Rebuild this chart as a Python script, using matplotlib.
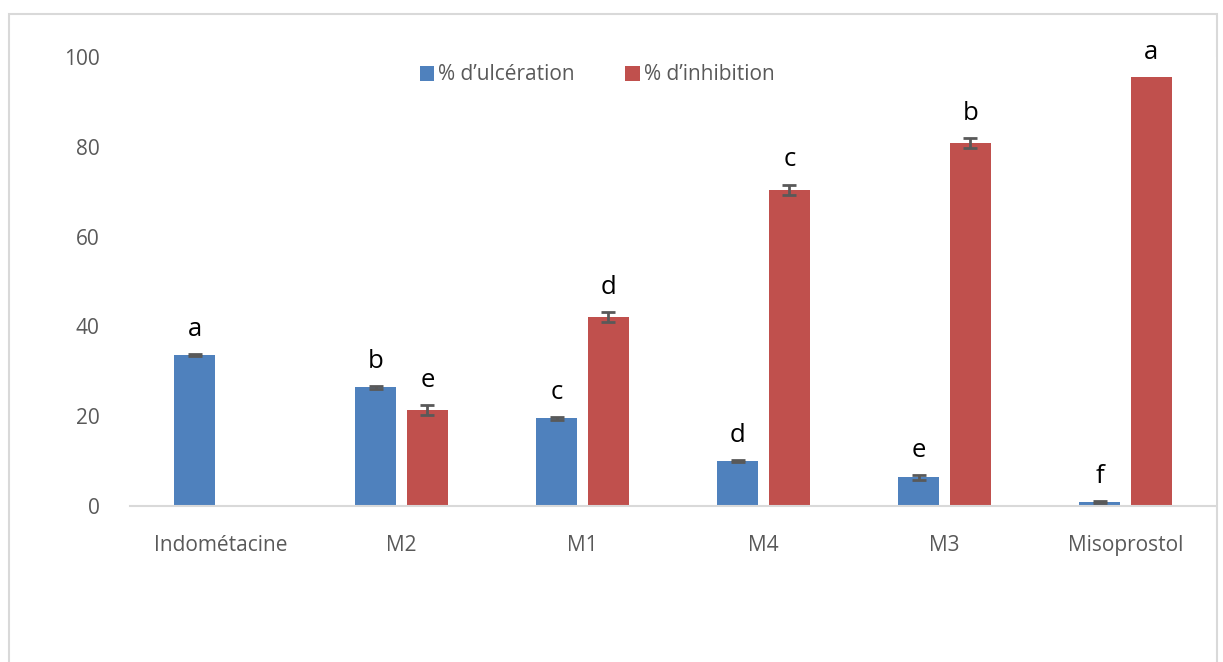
import matplotlib
matplotlib.use("Agg")
import matplotlib.pyplot as plt
from matplotlib.patches import Rectangle
import numpy as np

categories = ["Indométacine", "M2", "M1", "M4", "M3", "Misoprostol"]
ulceration = [33.6, 26.4, 19.5, 10.0, 6.4, 0.9]
ulceration_err = [0.3, 0.3, 0.4, 0.2, 0.5, 0.3]
inhibition = [np.nan, 21.3, 42.0, 70.4, 80.9, 95.6]
inhibition_err = [0, 1.1, 1.1, 1.2, 1.1, 0]
letters_ulc = ["a", "b", "c", "d", "e", "f"]
letters_inh = ["", "e", "d", "c", "b", "a"]
series_names = ["% d\u2019ulcération", "% d\u2019inhibition"]
yticks = [0, 20, 40, 60, 80, 100]

plt.rcParams['font.family'] = ['Open Sans', 'DejaVu Sans']

fig = plt.figure(figsize=(12.23, 6.62), dpi=100)
ax = fig.add_axes([130/1223, 1-506/662, (1216-130)/1223, (506-57)/662])

x = np.arange(len(categories))
w = 0.2265
off = 0.1436
blue = "#4F81BD"
red = "#C0504D"
ecol = "#595959"
ekw = dict(fmt="none", ecolor=ecol, elinewidth=2, capsize=5, capthick=2, zorder=3)

inh = np.array(inhibition, dtype=float)
ulc = np.array(ulceration, dtype=float)
uerr = np.array(ulceration_err, dtype=float)
ierr = np.array(inhibition_err, dtype=float)

b1 = ax.bar(x - off, ulc, w, color=blue, label=series_names[0])
b2 = ax.bar(x + off, np.nan_to_num(inh), w, color=red, label=series_names[1])

mu = uerr > 0
ax.errorbar((x - off)[mu], ulc[mu], yerr=uerr[mu], **ekw)
mi = ierr > 0
ax.errorbar((x + off)[mi], inh[mi], yerr=ierr[mi], **ekw)

for i in range(len(categories)):
    ax.annotate(letters_ulc[i], (x[i] - off, ulc[i] + uerr[i]),
                xytext=(0, 13), textcoords="offset points", ha="center", va="baseline",
                fontsize=18.5, color="black")
    if letters_inh[i] and not np.isnan(inh[i]):
        ax.annotate(letters_inh[i], (x[i] + off, inh[i] + ierr[i]),
                    xytext=(0, 13), textcoords="offset points", ha="center", va="baseline",
                    fontsize=18.5, color="black")

ax.set_xlim(-0.5, len(categories) - 0.5)
ax.set_ylim(0, 100)
ax.set_yticks(yticks)
ax.set_xticks(x)
ax.set_xticklabels(categories)
ax.tick_params(axis="both", length=0, labelsize=15, colors="#595959")
ax.tick_params(axis="x", pad=21)
ax.tick_params(axis="y", pad=22)
for s in ["top", "right", "left"]:
    ax.spines[s].set_visible(False)
ax.spines["bottom"].set_color("#D9D9D9")
ax.spines["bottom"].set_linewidth(1.5)
ax.set_zorder(2)

leg = fig.legend(handles=[b1, b2], labels=series_names, loc="center",
                 bbox_to_anchor=(597/1223, 1-75/662), ncol=2, frameon=False,
                 fontsize=15, handlelength=0.7, handleheight=0.7, handletextpad=0.2,
                 columnspacing=2.4, labelcolor="#595959")

fig.patches.append(Rectangle((9/1223, -0.05), (1217-9)/1223, 1.05-14/662, transform=fig.transFigure,
                             fill=False, edgecolor="#D9D9D9", linewidth=1.5))

fig.savefig("out.png", dpi=100)
